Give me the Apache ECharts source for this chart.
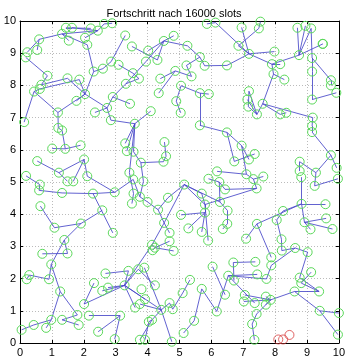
<!DOCTYPE html>
<html>
<head>
<meta charset="utf-8">
<script src="https://cdn.jsdelivr.net/npm/echarts@6/dist/echarts.min.js"></script>
<style>
  html, body { margin: 0; padding: 0; background: #fff; }
  #chart { width: 348px; height: 358px; }
</style>
</head>
<body>
<div id="chart"></div>
<script>
// Titel und Achsen
var titleText = 'Fortschritt nach 16000 slots';
var tickValues = [0, 1, 2, 3, 4, 5, 6, 7, 8, 9, 10];

// Knoten, nach Bildvierteln gruppiert (x, y)
var nodesA = [ // oben links
  [1.44, 9.79], [1.63, 9.79], [2.22, 9.77], [2.44, 9.70], [2.64, 9.91], [2.89, 9.93],
  [2.04, 9.48], [1.53, 9.39], [1.32, 9.60], [0.60, 9.43], [0.54, 9.10], [0.23, 9.03],
  [0.18, 8.87], [2.11, 9.26], [2.31, 8.43], [2.60, 8.52], [2.86, 8.74], [3.30, 9.55],
  [0.86, 8.30], [1.49, 8.22], [1.86, 8.18], [2.04, 7.73], [1.77, 7.52], [0.67, 8.02],
  [0.62, 7.89], [0.44, 7.81], [1.19, 7.16], [0.13, 6.86], [1.20, 6.68], [1.32, 6.60],
  [1.01, 6.04], [1.42, 6.03], [1.90, 6.14], [2.35, 7.16], [2.73, 7.30], [2.91, 7.64],
  [3.45, 7.43], [2.85, 6.92], [3.09, 8.64], [3.54, 8.38], [3.73, 8.21], [3.32, 8.05],
  [4.10, 7.20], [3.60, 6.81], [3.51, 9.21], [4.02, 9.08], [4.31, 8.79], [3.95, 8.74],
  [4.51, 9.38], [4.82, 9.54], [4.87, 8.45], [4.40, 8.21], [4.35, 7.76], [4.90, 7.51],
  [3.30, 6.20], [3.35, 5.96], [3.56, 5.94], [3.79, 5.60], [4.53, 6.24], [4.58, 5.80],
  [4.50, 5.63], [3.43, 5.29], [0.54, 5.65], [1.22, 5.29], [2.01, 5.70], [0.19, 5.19]
];
var nodesB = [ // oben rechts
  [5.86, 9.91], [6.13, 9.95], [6.95, 9.80], [7.54, 9.98], [7.49, 9.77], [6.85, 9.23],
  [7.18, 8.98], [7.98, 9.05], [7.90, 8.66], [8.16, 8.66], [8.70, 9.79], [8.95, 9.85],
  [9.13, 9.77], [9.49, 9.29], [8.75, 8.94], [9.16, 8.85], [9.16, 8.43], [9.75, 8.16],
  [9.92, 7.77], [9.16, 7.56], [6.49, 8.62], [5.79, 8.61], [5.64, 8.88], [5.25, 9.23],
  [5.38, 8.28], [5.05, 7.99], [5.64, 7.76], [5.92, 7.73], [5.04, 7.15], [5.64, 6.76],
  [6.49, 6.54], [6.95, 6.13], [7.36, 5.87], [7.18, 5.70], [6.72, 5.64], [6.18, 5.33],
  [7.95, 8.35], [8.29, 8.18], [7.18, 7.82], [7.13, 7.56], [7.16, 7.34], [7.43, 7.10],
  [7.61, 7.43], [8.16, 7.10], [8.35, 7.15], [9.18, 7.00], [9.16, 6.74], [9.16, 6.55],
  [9.75, 5.83], [9.93, 5.44], [8.77, 5.63], [8.77, 5.34], [9.28, 5.29], [9.75, 8.00],
  [9.50, 9.29], [5.22, 8.62]
];
var nodesC = [ // unten links
  [0.62, 4.92], [0.60, 4.74], [1.32, 4.66], [1.49, 5.02], [1.67, 5.02], [2.11, 5.18],
  [2.29, 4.64], [2.97, 4.68], [3.55, 5.08], [3.87, 5.02], [3.56, 4.64], [3.51, 4.33],
  [3.76, 4.54], [4.00, 4.38], [4.33, 4.14], [4.64, 4.51], [4.52, 3.73], [4.69, 3.42],
  [4.69, 3.16], [4.82, 2.86], [4.14, 3.05], [4.23, 2.96], [0.64, 4.25], [1.08, 3.58],
  [1.91, 3.71], [2.58, 4.12], [2.91, 3.42], [1.39, 3.20], [1.49, 2.78], [0.70, 2.77],
  [0.98, 2.44], [0.21, 1.98], [0.29, 2.11], [0.91, 1.98], [1.26, 1.60], [0.98, 0.72],
  [0.43, 0.56], [0.05, 0.41], [0.82, 0.47], [1.32, 0.72], [1.80, 0.87], [1.84, 0.56],
  [2.16, 0.85], [2.01, 1.21], [2.32, 1.86], [2.68, 2.16], [2.58, 1.62], [2.76, 1.72],
  [3.28, 1.79], [3.40, 2.24], [3.71, 2.29], [3.90, 2.34], [4.23, 1.79], [3.81, 1.67],
  [3.92, 1.36], [3.76, 1.21], [3.61, 1.10], [4.43, 1.03], [3.14, 0.85], [2.45, 0.35],
  [2.97, 0.12], [3.76, 0.10], [3.92, 0.10], [4.04, 0.66], [4.14, 0.72], [4.76, 0.04],
  [4.69, 1.24], [4.79, 1.05], [4.16, 2.88]
];
var nodesD = [ // unten rechts
  [5.91, 5.10], [7.10, 5.24], [7.32, 5.09], [7.63, 5.17], [7.42, 4.80], [8.82, 5.15],
  [9.97, 5.10], [9.24, 4.88], [6.25, 5.00], [5.15, 4.92], [6.43, 4.77], [6.27, 4.38],
  [5.70, 4.64], [5.80, 4.30], [5.80, 4.05], [6.51, 4.11], [6.50, 3.70], [6.36, 3.54],
  [5.05, 3.98], [5.28, 3.56], [5.70, 3.45], [5.90, 3.18], [7.09, 3.24], [7.43, 3.70],
  [8.25, 4.10], [8.05, 3.82], [8.20, 3.22], [8.21, 2.87], [8.83, 4.32], [9.58, 4.31],
  [8.92, 3.75], [9.11, 3.53], [9.60, 3.87], [9.80, 3.54], [7.88, 2.66], [8.63, 2.95],
  [9.02, 2.82], [6.04, 2.37], [6.69, 2.50], [7.38, 2.52], [7.44, 2.13], [6.71, 1.94],
  [6.53, 2.09], [7.73, 1.99], [7.88, 2.41], [8.77, 2.03], [8.82, 1.86], [9.13, 2.20],
  [9.38, 1.60], [8.61, 1.60], [5.33, 1.96], [5.10, 1.55], [5.70, 1.68], [6.43, 1.50],
  [7.05, 1.49], [7.02, 1.29], [7.36, 1.24], [7.71, 1.44], [7.86, 1.34], [7.71, 1.19],
  [7.42, 0.90], [7.28, 0.59], [7.35, 0.10], [6.17, 0.98], [5.46, 0.69], [5.13, 0.31],
  [9.40, 1.00], [10.0, 0.93], [9.97, 0.26]
];
// rote Knoten
var redNodes = [[8.10, 0.11], [8.25, 0.11], [8.45, 0.25]];

// Verbindungen zwischen Knoten
var links = [
  'a0-a1','a0-a2','a1-a3','a3-a4','a4-a5','a6-a3','a8-a3','a9-a8','a8-a7','a8-a13',
  'a13-a14','a14-a15','a15-a16','a16-a17','a14-a21','a9-a10','a9-a11','a12-a18',
  'a18-a23','a23-a19','a24-a20','a19-a21','a20-a21','a25-a24','a25-a26','a25-a27',
  'a21-a26','a21-a22','a21-a34','a26-a28','a28-a29','a29-a31','a30-a31','a31-a32',
  'a33-a34','a34-a35','a35-a36','a34-a37','a37-a43','a43-a42','a43-a54','a43-a55',
  'a43-a61','a43-a56','a56-a57','a57-a60','a58-a59','a59-a60','a38-a39','a39-a40',
  'a35-a41','a41-a47','a47-a48','a44-a46','a45-a48','a46-a48','a48-a49','a48-b23',
  'a51-a50','a52-a50','a50-b24','a53-b28','a53-b25','a62-a63','a63-a64','a63-c3',
  'a64-c4','a64-c5','a65-c0','a57-c9','a40-a41',
  'b0-b1','b1-b6','b2-b6','b3-b4','b4-b5','b5-b6','b6-b7','b6-b8','b6-b20','b20-b21',
  'b21-b22','b22-b23','b8-b9','b8-b36','b8-b14','b14-b10','b14-b11','b14-b12',
  'b14-b54','b12-b15','b15-b16','b16-b19','b15-b17','b17-b53','b18-b19','b36-b37',
  'b36-b42','b38-b41','b38-b40','b39-b41','b40-b41','b41-b42','b42-b43','b43-b44',
  'b42-b45','b45-b46','b46-b47','b47-b48','b48-b49','b50-b51','b50-b52','b52-b48',
  'b25-b26','b26-b27','b26-b29','b24-b55','b55-b22','b29-b30','b30-b31','b30-b34',
  'b34-b32','b31-b33','b35-d1','b31-d1',
  'c0-c1','c1-c2','c2-c6','c6-c7','c5-c7','c7-c8','c6-c26','c22-c23','c23-c24',
  'c24-c25','c24-c27','c27-c28','c28-c29','c27-c30','c30-c33','c32-c33','c31-c32',
  'c30-c34','c34-c40','c40-c39','c39-c41','c34-c35','c35-c36','c36-c37','c35-c38',
  'c43-c44','c45-c49','c49-c48','c50-c48','c51-c57','c46-c48','c47-c48','c43-c48',
  'c48-c57','c48-c54','c48-c56','c42-c58','c58-c60','c58-c59','c64-c61','c64-c57',
  'c57-c65','c57-c66','c66-c67','c62-c63','c63-c64','c55-c57','c48-c20','c50-c52',
  'a61-c10','c10-c11','c8-c12','c9-c12','c12-c13','c13-c14','c14-c15','c14-c16',
  'c16-c20','c20-c21','c21-c68','c21-c18','c21-c19','c16-c17',
  'd9-d12','d9-d13','d9-d11','d9-c15','d9-c16','d0-d8','d8-d11','d1-d2','d2-d3',
  'd2-d4','d10-d4','d13-d4','d12-d13','d13-d21','d13-d14','d14-d18','d14-d19',
  'd20-d14','d11-d15','d15-d16','d16-d17','d5-d28','d28-d24','d28-d23','d28-d30',
  'd28-d29','d30-d32','d30-d33','d30-d31','d7-d6','d7-b52','d25-d26','d26-d27',
  'd23-d22','d23-d34','d25-d24','d35-d44','d44-d43','d38-d39','d38-d41','d42-d43',
  'd42-d40','d42-d56','d42-d63','d37-d53','d52-d64','d52-d63','d50-d51','d51-c67',
  'd65-d64','d36-d45','d45-d48','d46-d48','d47-d46','d49-d48','d58-d49','d49-d66',
  'd66-d67','d66-d68','d55-d58','d54-d58','d57-d58','d59-d58','d60-d58','d60-d61',
  'd61-d62','d35-d36','d27-d35','d10-d8'
];

// Knoten und Kanten für die Graph-Serie aufbauen
function addNodes(list, prefix, out) {
  list.forEach(function (p, i) {
    out.push({ name: prefix + i, value: p });
  });
}
var graphNodes = [];
addNodes(nodesA, 'a', graphNodes);
addNodes(nodesB, 'b', graphNodes);
addNodes(nodesC, 'c', graphNodes);
addNodes(nodesD, 'd', graphNodes);
var graphLinks = links.map(function (s) {
  var p = s.split('-');
  return { source: p[0], target: p[1] };
});

var axisFont = { color: '#000', fontSize: 11, fontFamily: 'Liberation Sans, Arial, sans-serif' };
function makeAxis(pos, showLabel) {
  return {
    type: 'value', position: pos, min: 0, max: 10, interval: 1,
    axisLine: { show: true, onZero: false, lineStyle: { color: '#000', width: 1 } },
    axisTick: { show: true, inside: true, length: 3, lineStyle: { color: '#000' } },
    axisLabel: Object.assign({ show: showLabel, margin: 4 }, axisFont),
    splitLine: { show: showLabel, lineStyle: { color: '#bbb', type: [1, 2], width: 1 } }
  };
}

var chart = echarts.init(document.getElementById('chart'));
var option = {
  animation: false,
  backgroundColor: '#fff',
  title: {
    text: titleText, left: 'center', top: 3,
    textStyle: { fontSize: 11, fontWeight: 'normal', color: '#000', fontFamily: 'Liberation Sans, Arial, sans-serif' }
  },
  grid: { left: 20, right: 5, top: 21, bottom: 14 },
  xAxis: [makeAxis('bottom', true), makeAxis('top', false)],
  yAxis: [makeAxis('left', true), makeAxis('right', false)],
  series: [
    {
      type: 'graph',
      coordinateSystem: 'cartesian2d',
      xAxisIndex: 0, yAxisIndex: 0,
      symbol: 'circle',
      symbolSize: 9,
      data: graphNodes,
      links: graphLinks,
      itemStyle: { color: 'rgba(0,0,0,0)', borderColor: '#5ad85a', borderWidth: 1 },
      lineStyle: { color: '#4646c8', width: 1, opacity: 0.85, curveness: 0 },
      label: { show: false },
      silent: true
    },
    {
      type: 'scatter',
      xAxisIndex: 0, yAxisIndex: 0,
      symbol: 'circle',
      symbolSize: 9,
      data: redNodes,
      itemStyle: { color: 'rgba(0,0,0,0)', borderColor: '#d84040', borderWidth: 1 },
      silent: true
    }
  ]
};
chart.setOption(option);
</script>
</body>
</html>
